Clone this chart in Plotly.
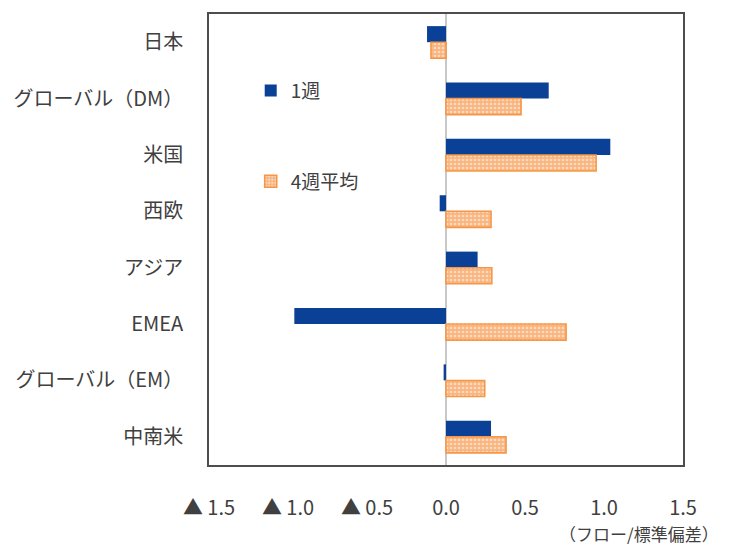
import plotly.graph_objects as go

# Regions (top to bottom) and weekly flow readings, in standard-deviation units
regions = ["日本", "グローバル（DM）", "米国", "西欧", "アジア", "EMEA", "グローバル（EM）", "中南米"]
week1 = [-0.12, 0.65, 1.04, -0.04, 0.20, -0.96, -0.015, 0.285]
week4_avg = [-0.095, 0.475, 0.95, 0.285, 0.29, 0.76, 0.245, 0.38]

x_tickvals = [-1.5, -1.0, -0.5, 0.0, 0.5, 1.0, 1.5]
x_ticktext = ["▲ 1.5", "▲ 1.0", "▲ 0.5", "0.0", "0.5", "1.0", "1.5"]

FONT = "Noto Sans CJK JP"
TEXT = "#404040"
BLUE = "#0A4096"
ORANGE = "#F79646"

fig = go.Figure()
fig.add_trace(go.Bar(
    y=regions, x=week1, orientation="h", name="1週",
    legendgroup="a",
    marker=dict(color=BLUE, line=dict(width=0)),
))
fig.add_trace(go.Bar(
    y=regions, x=week4_avg, orientation="h", name="4週平均",
    legendgroup="b",
    marker=dict(
        color="#FAC39A",
        line=dict(color=ORANGE, width=1.6),
        pattern=dict(shape=".", fgcolor="#FFFFFF", bgcolor="#F9B57F",
                     size=4, solidity=0.35),
    ),
))

fig.update_layout(
    width=736, height=545,
    margin=dict(l=209, r=53, t=12, b=80),
    paper_bgcolor="white", plot_bgcolor="white",
    barmode="group", bargap=0.43, bargroupgap=0,
    font=dict(family=FONT, size=19, color=TEXT),
    showlegend=True,
    legend=dict(
        x=0.088, y=0.872, xanchor="left", yanchor="top",
        traceorder="grouped", tracegroupgap=63,
        bgcolor="rgba(0,0,0,0)", font=dict(size=19, color=TEXT),
        itemwidth=30,
    ),
    xaxis=dict(
        range=[-1.5, 1.5], tickvals=x_tickvals, ticktext=x_ticktext,
        showgrid=False, zeroline=True, zerolinecolor="#C8C8C8", zerolinewidth=2,
        showline=True, mirror=True, linecolor="#4D4D4D", linewidth=1.5,
        ticks="", ticklabelstandoff=24, tickfont=dict(size=20, color=TEXT),
    ),
    yaxis=dict(
        autorange="reversed", showgrid=False,
        showline=True, mirror=True, linecolor="#4D4D4D", linewidth=1.5,
        ticks="", ticklabelstandoff=20, tickfont=dict(size=20, color=TEXT),
    ),
    annotations=[
        dict(text="（フロー/標準偏差）", xref="paper", yref="paper",
             x=1.0 + 38 / 474, y=-0.152, xanchor="right", yanchor="middle",
             showarrow=False, font=dict(size=17, color=TEXT)),
    ],
)

fig.write_html("out.html")
